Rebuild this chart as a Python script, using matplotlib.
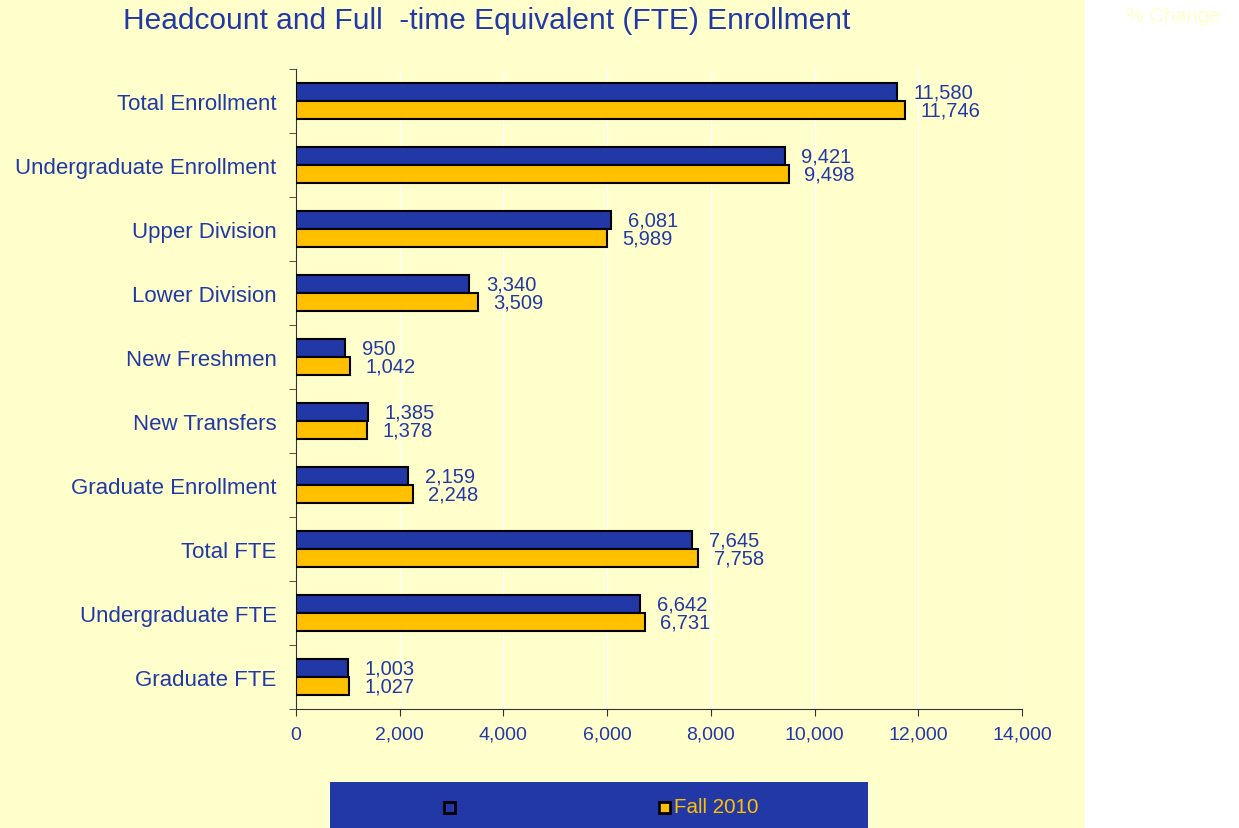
import numpy as np
import matplotlib
matplotlib.use("Agg")
import matplotlib.pyplot as plt
import matplotlib.transforms as mtransforms
from matplotlib.patches import Rectangle

plt.rcParams['font.family'] = ['Liberation Sans', 'DejaVu Sans']

categories = ["Total Enrollment", "Undergraduate Enrollment", "Upper Division",
              "Lower Division", "New Freshmen", "New Transfers", "Graduate Enrollment",
              "Total FTE", "Undergraduate FTE", "Graduate FTE"]
fall_2011 = [11580, 9421, 6081, 3340, 950, 1385, 2159, 7645, 6642, 1003]
fall_2010 = [11746, 9498, 5989, 3509, 1042, 1378, 2248, 7758, 6731, 1027]
pct_change = ["-1.4%", "-0.8%", "1.5%", "-4.8%", "-8.8%", "0.5%", "-4.0%",
              "-1.5%", "-1.3%", "-2.4%"]
xticks = [0, 2000, 4000, 6000, 8000, 10000, 12000, 14000]

bg = "#FFFFCC"
blue = "#2238A6"
orange = "#FFC000"

fig = plt.figure(figsize=(12.39, 8.29), dpi=100, facecolor=bg)
# white strip on the right
fig.patches.append(Rectangle((1085 / 1239, 0), 1 - 1085 / 1239, 1, transform=fig.transFigure,
                             facecolor="white", edgecolor="none", zorder=0))

ax = fig.add_axes([296 / 1239, 1 - 710 / 829, 726 / 1239, 640 / 829])
ax.set_facecolor(bg)

y = np.arange(len(categories))
h = 0.28
ax.barh(y - h / 2, fall_2011, height=h, color=blue, edgecolor="black", linewidth=1.5, zorder=3)
ax.barh(y + h / 2, fall_2010, height=h, color=orange, edgecolor="black", linewidth=1.5, zorder=3)

for i in range(len(categories)):
    ax.annotate(f"{fall_2011[i]:,}", (fall_2011[i], i - h / 2), xytext=(12, 0),
                textcoords="offset points", ha="left", va="center", color=blue, fontsize=14.5)
    ax.annotate(f"{fall_2010[i]:,}", (fall_2010[i], i + h / 2), xytext=(11, 0),
                textcoords="offset points", ha="left", va="center", color=blue, fontsize=14.5)

ax.set_xlim(0, 14000)
ax.set_ylim(len(categories) - 0.5, -0.5)
ax.set_xticks(xticks)
ax.set_xticklabels([f"{v:,}" for v in xticks], color=blue, fontsize=14)
ax.set_yticks(y)
ax.set_yticklabels(categories, color=blue, fontsize=16)
ax.set_yticks(np.arange(len(categories) + 1) - 0.5, minor=True)
ax.tick_params(axis="y", which="major", length=0, pad=14)
ax.tick_params(axis="y", which="minor", length=5, direction="out", color="#333333")
ax.tick_params(axis="x", length=5, direction="out", color="#333333", pad=7)
ax.grid(axis="x", color="white", linewidth=1, zorder=1)
for s in ["top", "right"]:
    ax.spines[s].set_visible(False)
for s in ["left", "bottom"]:
    ax.spines[s].set_color("#333333")

fig.text(487 / 1239, 1 - 21 / 829, "Headcount and Full  -time Equivalent (FTE) Enrollment",
         ha="center", va="center", color=blue, fontsize=21.5)

# faint % change column
fig.text(1173 / 1239, 1 - 16 / 829, "% Change", ha="center", va="center", color=bg, fontsize=14.5)
trans = mtransforms.blended_transform_factory(fig.transFigure, ax.transData)
for i, p in enumerate(pct_change):
    ax.text(1172 / 1239, i + 0.12, p, transform=trans, ha="center", va="center",
            color=bg, fontsize=14.5, clip_on=False)

# legend box
fig.patches.append(Rectangle((330 / 1239, 0), 538 / 1239, 46 / 829, transform=fig.transFigure,
                             facecolor=blue, edgecolor="none", zorder=1))
fig.patches.append(Rectangle((444 / 1239, 1 - 814 / 829), 11 / 1239, 11 / 829,
                             transform=fig.transFigure, facecolor=blue, edgecolor="black",
                             linewidth=2, zorder=2))
fig.patches.append(Rectangle((659 / 1239, 1 - 814 / 829), 11 / 1239, 11 / 829,
                             transform=fig.transFigure, facecolor=orange, edgecolor="black",
                             linewidth=2, zorder=2))
fig.text(674 / 1239, 1 - 808 / 829, "Fall 2010", ha="left", va="center", color=orange, fontsize=14.8)

fig.savefig("out.png", dpi=100, facecolor=bg)
